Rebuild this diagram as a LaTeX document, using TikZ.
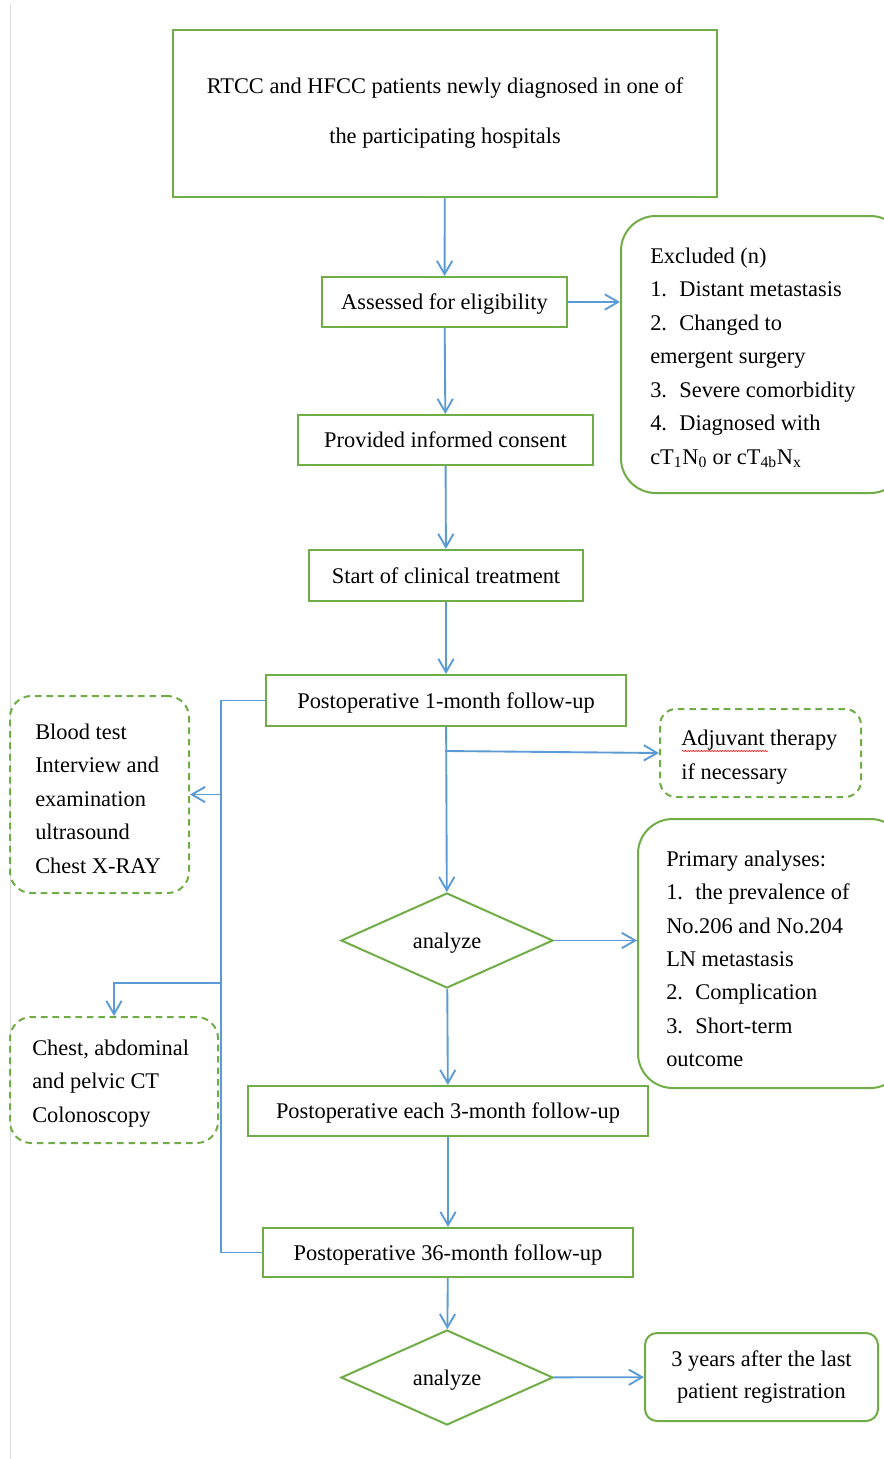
\documentclass[tikz,border=0pt]{standalone}
\usepackage{fontspec}
\setmainfont{Liberation Serif}
\usetikzlibrary{arrows.meta,shapes.geometric,decorations.pathmorphing}
\definecolor{fgreen}{HTML}{70AD47}
\definecolor{fblue}{HTML}{5B9BD5}
\newcommand\fs{\fontsize{16.8}{25.1}\selectfont}
\tikzset{
  box/.style={draw=fgreen, line width=1.5pt, inner sep=0pt, align=center, font=\fs},
  sl/.style={text height=15pt, text depth=3.6pt},
  rbox/.style={box, rounded corners=#1},
  dbox/.style={draw=fgreen, line width=1.5pt, inner sep=0pt, dash pattern=on 5pt off 3.6pt, rounded corners=#1},
  dia/.style={diamond, draw=fgreen, line width=1.5pt, inner sep=0pt, aspect=2.23, font=\fs, sl},
  txt/.style={anchor=west, align=left, inner sep=0pt, font=\fs},
  link/.style={draw=fblue, line width=1.4pt},
  arr/.style={link, -{Straight Barb[length=10pt,width=11.5pt]}},
}
\begin{document}
\begin{tikzpicture}[x=0.75pt,y=-0.75pt]
\useasboundingbox (0,0) rectangle (883,1459);
\fill[white] (0,0) rectangle (883,1459);
\draw[black!15, line width=0.8pt] (10.5,4) -- (10.5,1459);

% main column
\node[box, minimum width=408pt, minimum height=125.25pt, font=\fontsize{16.8}{37.5}\selectfont] (top) at (445,113.5)
  {RTCC and HFCC patients newly diagnosed in one of\\the participating hospitals};
\node[box, sl, minimum width=183.75pt, minimum height=37.5pt] (assess) at (444.5,302) {Assessed for eligibility};
\node[box, sl, minimum width=221.25pt, minimum height=37.5pt] (consent) at (445.5,440) {Provided informed consent};
\node[box, sl, minimum width=205.5pt, minimum height=38.25pt] (start) at (446,575.5) {Start of clinical treatment};
\node[box, sl, minimum width=270pt, minimum height=38.25pt] (fu1) at (446,700.5) {Postoperative 1-month follow-up};
\node[dia, minimum width=159pt, minimum height=71.25pt] (d1) at (447,940.5) {analyze};
\node[box, sl, minimum width=300pt, minimum height=37.5pt] (fu3) at (448,1111) {Postoperative each 3-month follow-up};
\node[box, sl, minimum width=277.5pt, minimum height=36.75pt] (fu36) at (448,1252.5) {Postoperative 36-month follow-up};
\node[dia, minimum width=159pt, minimum height=71.25pt] (d2) at (447,1377.5) {analyze};

% right side
\node[rbox=26pt, minimum width=213pt, minimum height=207.75pt] (excl) at (763,354.5) {};
\node[txt] (exclt) at ([xshift=22.5pt,yshift=-2.5pt]excl.west)
  {Excluded (n)\\
   1.\hspace{0.55em}Distant metastasis\\
   2.\hspace{0.55em}Changed to\\
   emergent surgery\\
   3.\hspace{0.55em}Severe comorbidity\\
   4.\hspace{0.55em}Diagnosed with\\
   cT\textsubscript{1}N\textsubscript{0} or cT\textsubscript{4b}N\textsubscript{x}};

\node[dbox=12pt, minimum width=150.75pt, minimum height=66pt] (adj) at (760.5,753) {};
\node[txt] (adjt) at ([xshift=16.5pt,yshift=-3pt]adj.west) {Adjuvant therapy\\if necessary};
\draw[red, line width=0.4pt, decorate, decoration={snake, amplitude=0.5pt, segment length=2pt}]
  (682,751) -- (768,751);

\node[rbox=26pt, minimum width=200.25pt, minimum height=201.75pt] (prim) at (771.5,953.5) {};
\node[txt] (primt) at ([xshift=21.75pt,yshift=-4pt]prim.west)
  {Primary analyses:\\
   1.\hspace{0.55em}the prevalence of\\
   No.206 and No.204\\
   LN metastasis\\
   2.\hspace{0.55em}Complication\\
   3.\hspace{0.55em}Short-term\\
   outcome};

\node[rbox=9pt, minimum width=174.75pt, minimum height=66pt, font=\fontsize{16.8}{24}\selectfont] (last) at (761.5,1377)
  {3 years after the last\\patient registration};

% left side
\node[dbox=16pt, minimum width=134.25pt, minimum height=147.75pt] (blood) at (99.5,794.5) {};
\node[txt] (bloodt) at ([xshift=19.5pt,yshift=-3pt]blood.west)
  {Blood test\\Interview and\\examination\\ultrasound\\Chest X-RAY};
\node[dbox=16pt, minimum width=156pt, minimum height=94.5pt] (chest) at (114,1080) {};
\node[txt] (chestt) at ([xshift=17.25pt,yshift=-2.5pt]chest.west)
  {Chest, abdominal\\and pelvic CT\\Colonoscopy};

% connectors
\draw[arr] (top) -- (assess);
\draw[arr] (assess.east) -- (assess.east -| excl.west);
\draw[arr] (assess) -- (consent);
\draw[arr] (consent) -- (start);
\draw[arr] (start) -- (fu1);
\draw[arr] (fu1) -- (d1);
\coordinate (br) at (445,751);
\draw[arr] (br) -- (adj.west);
\draw[arr] (d1.east) -- (d1.east -| prim.west);
\draw[arr] (d1) -- (fu3);
\draw[arr] (fu3) -- (fu36);
\draw[arr] (fu36) -- (d2);
\draw[arr] (d2) -- (last);

\coordinate (busT) at (221,700.5);
\coordinate (busB) at (221,1252.5);
\coordinate (busC) at (221,983);
\draw[link] (fu1.west) -- (busT) -- (busB) -- (fu36.west);
\draw[arr] (blood.east -| busT) -- (blood.east);
\draw[arr] (busC) -| (chest.north);
\end{tikzpicture}
\end{document}
